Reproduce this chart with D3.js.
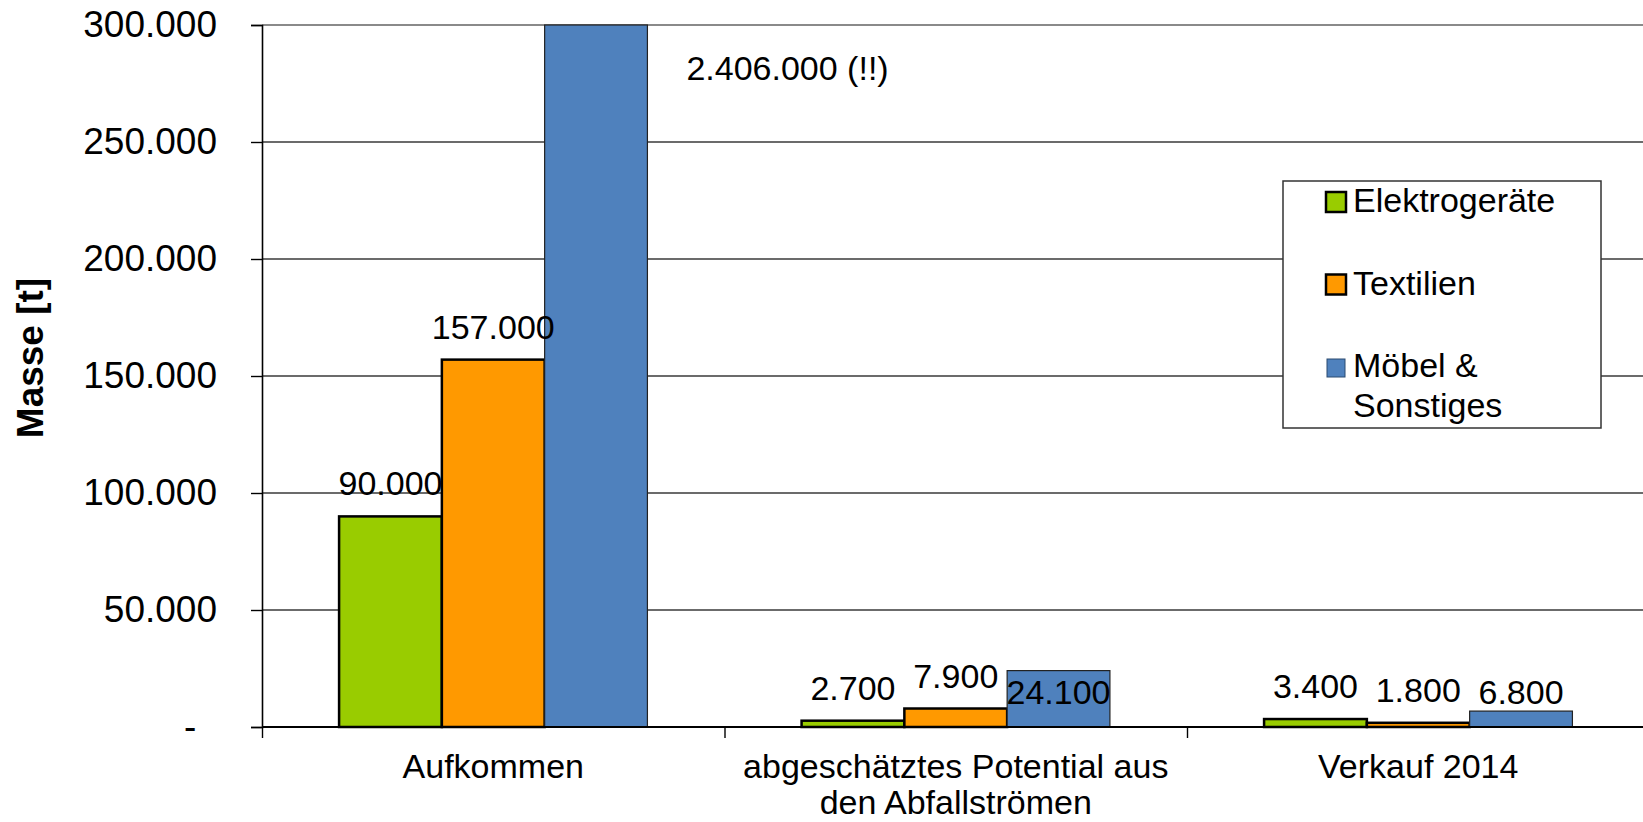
<!DOCTYPE html>
<html><head><meta charset="utf-8">
<script src="https://cdn.jsdelivr.net/npm/d3@7"></script>
<style>
body{margin:0;background:#fff}
svg{display:block}
text{font-family:"Liberation Sans",Arial,Helvetica,sans-serif;fill:#000}
</style>
</head><body>
<svg id="c" width="1643" height="822"></svg>
<script>
// ---- data ----
const categories = ["Aufkommen", "abgeschätztes Potential aus\nden Abfallströmen", "Verkauf 2014"];
const seriesNames = ["Elektrogeräte", "Textilien", "Möbel &\nSonstiges"];
const elektrogeraete = [90000, 2700, 3400];
const textilien = [157000, 7900, 1800];
const moebel = [2406000, 24100, 6800];
const yTickValues = [0, 50000, 100000, 150000, 200000, 250000, 300000];
const yTickLabels = ["-", "50.000", "100.000", "150.000", "200.000", "250.000", "300.000"];
const yTitle = "Masse [t]";
const overflowNote = "(!!)";

(function () {
// ---- layout ----
const W = 1643;
const pLeft = 262, pTop = 25, pBottom = 727, pRight = 1649.5;
const colors = ["#99CC00", "#FF9900", "#4F81BD"];
const strokeW = [2.5, 2.5, 1.2];
const series = [elektrogeraete, textilien, moebel];

const svg = d3.select("#c");
const loc = d3.formatLocale({decimal: ",", thousands: ".", grouping: [3], currency: ["", "€"]});
const fmt = loc.format(",d");

const x0 = d3.scaleBand().domain(categories).range([pLeft, pRight]).padding(0);
const x1 = d3.scaleBand().domain(d3.range(series.length)).range([0, x0.bandwidth()]).paddingInner(0).paddingOuter(0.75);
const y = d3.scaleLinear().domain([0, 300000]).range([pBottom, pTop]).clamp(true);

// gridlines
svg.append("g").selectAll("line").data(yTickValues.slice(1, -1)).join("line")
  .attr("x1", pLeft).attr("x2", W).attr("y1", d => y(d)).attr("y2", d => y(d))
  .attr("stroke", "#3a3a3a").attr("stroke-width", 1.4);
// top border of plot
svg.append("line").attr("x1", pLeft).attr("x2", W).attr("y1", y(300000)).attr("y2", y(300000))
  .attr("stroke", "#8a8a8a").attr("stroke-width", 2.2);

// bars
const rows = [];
categories.forEach((c, ci) => series.forEach((s, si) => rows.push({c, ci, si, v: s[ci]})));
svg.append("g").selectAll("rect").data(rows).join("rect")
  .attr("x", d => x0(d.c) + x1(d.si))
  .attr("width", x1.bandwidth())
  .attr("y", d => y(d.v))
  .attr("height", d => y(0) - y(d.v))
  .attr("fill", d => colors[d.si])
  .attr("stroke", d => d.si === 2 ? "#222" : "#000")
  .attr("stroke-width", d => strokeW[d.si]);

// y axis
const yAxis = d3.axisLeft(y).tickValues(yTickValues).tickSize(11).tickPadding(34)
  .tickFormat((d, i) => yTickLabels[i] === "-" ? "-\u00a0\u00a0" : yTickLabels[i]);
const ga = svg.append("g").attr("transform", `translate(${pLeft},0)`).call(yAxis);
ga.select(".domain").attr("stroke", "#000").attr("stroke-width", 1.6);
ga.selectAll(".tick line").attr("stroke", "#000").attr("stroke-width", 1.4);
ga.selectAll("text").style("font-size", "37px").attr("fill", "#000").style("font-family", '"Liberation Sans",Arial,sans-serif');

// x axis
const boundaries = categories.map(c => x0(c));
const xAxis = d3.axisBottom(d3.scaleLinear().domain([pLeft, pRight]).range([pLeft, pRight]))
  .tickValues(boundaries).tickSize(11).tickFormat("");
const gx = svg.append("g").attr("transform", `translate(0,${pBottom})`).call(xAxis);
gx.select(".domain").attr("stroke", "#000").attr("stroke-width", 1.8).attr("d", `M${pLeft},0H${W}`);
gx.selectAll(".tick line").attr("stroke", "#000").attr("stroke-width", 1.4);

// category labels
const cl = svg.append("g").selectAll("text").data(categories).join("text")
  .attr("x", d => x0(d) + x0.bandwidth() / 2)
  .attr("y", pBottom + 51)
  .attr("text-anchor", "middle")
  .style("font-size", "34px");
cl.selectAll("tspan").data(d => d.split("\n")).join("tspan")
  .attr("x", function () { return d3.select(this.parentNode).attr("x"); })
  .attr("dy", (d, i) => i === 0 ? 0 : 36)
  .text(d => d);

// value labels
const lab = svg.append("g");
rows.forEach(d => {
  const cx = x0(d.c) + x1(d.si) + x1.bandwidth() / 2;
  if (d.v > y.domain()[1]) {
    lab.append("text")
      .attr("x", x0(d.c) + x1(d.si) + x1.bandwidth() + 39)
      .attr("y", pTop + 55)
      .style("font-size", "34px")
      .text(fmt(d.v) + " " + overflowNote);
    return;
  }
  const by = d.si === 2 ? y(0) - 23 : y(d.v) - 21;
  lab.append("text").attr("x", cx).attr("y", by)
    .attr("text-anchor", "middle").style("font-size", "34px")
    .text(fmt(d.v));
});

// y title
svg.append("text")
  .attr("transform", "translate(43,358) rotate(-90)")
  .attr("text-anchor", "middle")
  .style("font-size", "37px").style("font-weight", "bold")
  .text(yTitle);

// legend
const lg = svg.append("g").attr("transform", "translate(1283,181)");
lg.append("rect").attr("width", 318).attr("height", 247)
  .attr("fill", "#fff").attr("stroke", "#333").attr("stroke-width", 1.5);
const items = lg.selectAll("g.item").data(seriesNames).join("g").attr("class", "item")
  .attr("transform", (d, i) => `translate(0,${31 + i * 82.5})`);
items.append("rect")
  .attr("x", (d, i) => i === 2 ? 44 : 43)
  .attr("y", (d, i) => i === 2 ? -18 : -20)
  .attr("width", (d, i) => i === 2 ? 18 : 20)
  .attr("height", (d, i) => i === 2 ? 18 : 20)
  .attr("fill", (d, i) => colors[i])
  .attr("stroke", (d, i) => i === 2 ? "#2a4a70" : "#000")
  .attr("stroke-width", (d, i) => i === 2 ? 1 : 2.5);
const lt = items.append("text").attr("x", 70).attr("y", 0).style("font-size", "34px");
lt.selectAll("tspan").data(d => d.split("\n")).join("tspan")
  .attr("x", 70).attr("dy", (d, i) => i === 0 ? 0 : 40).text(d => d);
})();
</script>
</body></html>
